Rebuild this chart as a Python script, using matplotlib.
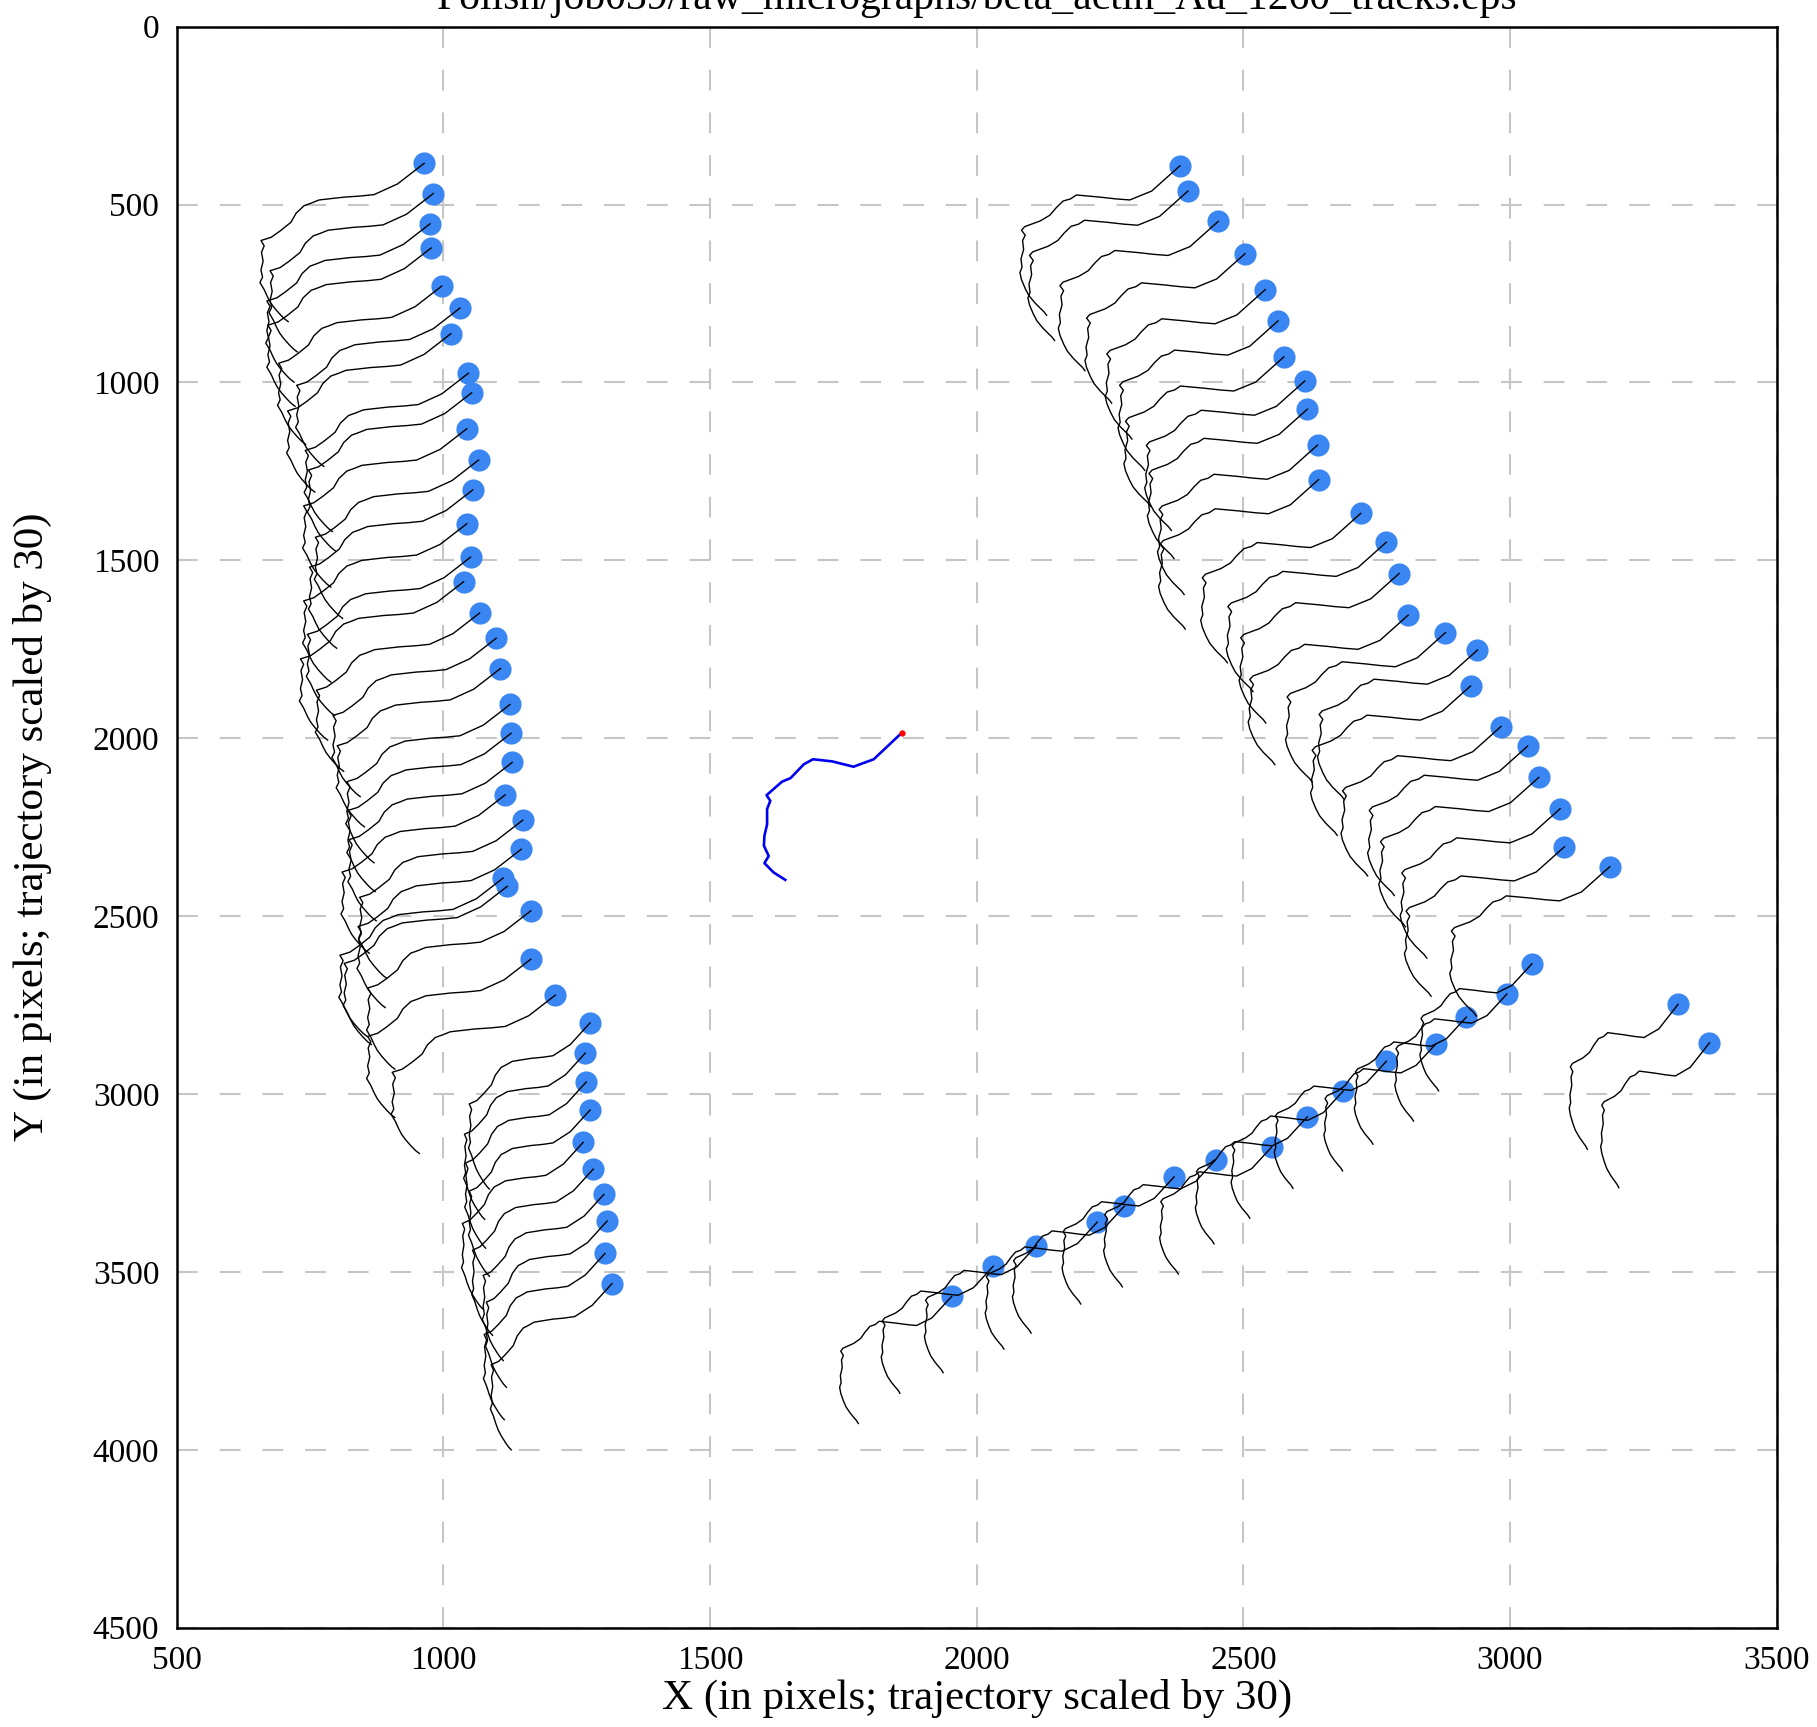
import matplotlib
matplotlib.use("Agg")
import matplotlib.pyplot as plt
import numpy as np

plt.rcParams['font.family'] = ['Liberation Serif', 'DejaVu Serif']

TITLE = "Polish/job039/raw_micrographs/beta_actin_Au_1260_tracks.eps"
XLABEL = "X (in pixels; trajectory scaled by 30)"
YLABEL = "Y (in pixels; trajectory scaled by 30)"
X_TICKS = [500, 1000, 1500, 2000, 2500, 3000, 3500]
Y_TICKS = [0, 500, 1000, 1500, 2000, 2500, 3000, 3500, 4000, 4500]

# particle positions (left column)
LEFT_X = [964, 981, 975, 977, 997, 1031, 1014, 1047, 1053, 1044, 1066, 1055, 1044, 1051,
          1038, 1068, 1099, 1107, 1125, 1127, 1129, 1116, 1149, 1146, 1112, 1120, 1164,
          1164, 1210, 1275, 1266, 1268, 1275, 1262, 1281, 1301, 1307, 1303, 1316]
LEFT_Y = [384, 469, 554, 622, 729, 791, 863, 974, 1029, 1130, 1218, 1302, 1397, 1491,
          1560, 1648, 1719, 1804, 1905, 1986, 2068, 2159, 2230, 2312, 2393, 2416, 2485,
          2621, 2722, 2800, 2885, 2966, 3045, 3136, 3211, 3282, 3357, 3448, 3533]
LEFT_SX = [1.0] * 29 + [0.74] * 10
LEFT_SY = [1.0] * 29 + [1.05] * 10

# particle positions (right group: upper diagonal + lower arc)
RIGHT_X = [2381, 2396, 2453, 2503, 2541, 2565, 2576, 2615, 2620, 2639, 2641, 2720, 2768,
           2792, 2809, 2879, 2939, 2926, 2983, 3033, 3054, 3094, 3102, 3187,
           3041, 2994, 2918, 2861, 2768, 2687, 2620, 2553, 2448, 2370, 2277, 2226, 2112,
           2031, 1953, 3315, 3374]
RIGHT_Y = [391, 462, 547, 638, 739, 827, 928, 996, 1075, 1176, 1273, 1368, 1449,
           1537, 1654, 1703, 1752, 1853, 1967, 2022, 2110, 2198, 2305, 2361,
           2634, 2719, 2784, 2859, 2908, 2992, 3064, 3149, 3185, 3233, 3315, 3360, 3426,
           3484, 3569, 2748, 2856]
RIGHT_SX = [1.0] * 24 + [0.7] * 15 + [0.68, 0.68]
RIGHT_SY = [1.0] * 24 + [0.85] * 15 + [0.97, 0.97]

# typical particle track, left column (offsets, already x30)
LTRACK_DX = [0, -50, -94, -120, -150, -197, -212, -225, -240, -250, -270, -287, -306, -300,
             -305, -302, -306, -303, -308, -300, -294, -288, -280, -270, -262, -255]
LTRACK_DY = [0, 58, 88, 92, 95, 103, 112, 119, 140, 166, 190, 208, 217, 232,
             250, 275, 300, 320, 335, 355, 375, 392, 408, 425, 437, 445]

# typical particle track, right group (offsets, already x30)
TRACK_DX = [0, -53, -94, -120, -150, -194, -205, -219, -232, -244, -262, -291, -297, -290,
            -295, -293, -298, -296, -300, -297, -290, -283, -272, -262, -255, -250]
TRACK_DY = [0, 71, 96, 93, 88, 82, 93, 99, 118, 139, 155, 171, 181, 195, 210, 235, 262,
            285, 300, 320, 345, 365, 385, 400, 410, 420]

# global track
BLUE_X = [1860, 1807, 1769, 1729, 1693, 1676, 1651, 1635, 1606, 1613, 1607, 1607, 1602,
          1601, 1610, 1602, 1619, 1641]
BLUE_Y = [1984, 2059, 2080, 2065, 2059, 2073, 2112, 2122, 2160, 2176, 2199, 2242, 2274,
          2302, 2331, 2351, 2377, 2398]

fig = plt.figure(figsize=(18.17, 17.27), dpi=100)
ax = fig.add_axes([0.09725, 0.0575, 0.88057, 0.92704])

ax.set_xlim(500, 3500)
ax.set_ylim(4500, 0)
ax.set_xticks(X_TICKS)
ax.set_yticks(Y_TICKS)
ax.grid(True, color='#c6c6c6', linewidth=1.5, linestyle=(0, (10, 10.5)), zorder=0)
ax.set_axisbelow(True)
for s in ax.spines.values():
    s.set_linewidth(1.8)
ax.tick_params(direction='in', length=0, width=0, labelsize=24)
ax.tick_params(axis='x', pad=13)
ax.tick_params(axis='y', pad=12.5)

ax.scatter(LEFT_X + RIGHT_X, LEFT_Y + RIGHT_Y, s=255, color='#3a86f2',
           linewidths=0, zorder=2)

groups = [(LEFT_X, LEFT_Y, LEFT_SX, LEFT_SY, LTRACK_DX, LTRACK_DY),
          (RIGHT_X, RIGHT_Y, RIGHT_SX, RIGHT_SY, TRACK_DX, TRACK_DY)]
for gx, gy, gsx, gsy, tx, ty in groups:
    tdx = np.array(tx, dtype=float)
    tdy = np.array(ty, dtype=float)
    for x0, y0, a, b in zip(gx, gy, gsx, gsy):
        ax.plot(x0 + a * tdx, y0 + b * tdy, color='black', lw=1.0, zorder=3)

ax.plot(BLUE_X, BLUE_Y, color='#0000f0', lw=1.9, zorder=4)
ax.plot([BLUE_X[0]], [BLUE_Y[0]], 'o', color='red', markersize=3.5, zorder=5)

ax.set_xlabel(XLABEL, fontsize=31, labelpad=2)
ax.set_ylabel(YLABEL, fontsize=31)
ax.yaxis.set_label_coords(-0.078, 0.5)
fig.text(0.5375, 1 - 9 / 1727, TITLE, fontsize=30, ha='center', va='baseline')

fig.savefig("out.png", dpi=100)
